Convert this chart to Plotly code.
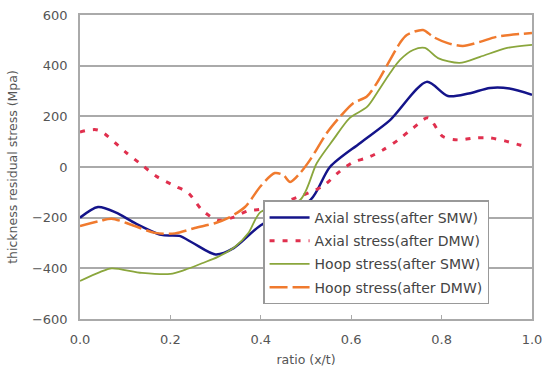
import plotly.graph_objects as go

x_axial_smw = [0, 0.04, 0.08, 0.12, 0.18, 0.22, 0.25, 0.30, 0.34, 0.40, 0.51, 0.553, 0.62, 0.686, 0.767, 0.814, 0.86, 0.907, 0.95, 1.0]
y_axial_smw = [-200, -158, -180, -220, -268, -272, -300, -345, -320, -230, -130, 0, 95, 185, 336, 280, 290, 312, 310, 285]

x_axial_dmw = [0, 0.04, 0.1, 0.137, 0.17, 0.21, 0.24, 0.27, 0.305, 0.337, 0.372, 0.405, 0.535, 0.57, 0.605, 0.635, 0.67, 0.704, 0.737, 0.77, 0.803, 0.836, 0.874, 0.907, 0.94, 0.973, 0.99]
y_axial_dmw = [138, 146, 60, 8, -38, -75, -103, -170, -210, -200, -173, -165, -78, -24, 20, 36, 67, 107, 154, 194, 120, 107, 115, 115, 103, 87, 80]

x_hoop_smw = [0, 0.044, 0.07, 0.137, 0.2, 0.232, 0.27, 0.305, 0.343, 0.372, 0.4, 0.487, 0.524, 0.56, 0.597, 0.635, 0.657, 0.686, 0.708, 0.737, 0.763, 0.792, 0.84, 0.885, 0.945, 1.0]
y_hoop_smw = [-450, -415, -400, -418, -422, -406, -380, -355, -315, -262, -177, -130, 16, 107, 194, 237, 292, 371, 423, 462, 470, 430, 411, 435, 470, 482]

x_hoop_dmw = [0, 0.044, 0.07, 0.115, 0.166, 0.21, 0.254, 0.3, 0.327, 0.365, 0.40, 0.431, 0.45, 0.465, 0.487, 0.509, 0.546, 0.575, 0.605, 0.634, 0.657, 0.686, 0.708, 0.723, 0.759, 0.781, 0.812, 0.847, 0.885, 0.922, 1.0]
y_hoop_dmw = [-233, -213, -204, -229, -260, -262, -241, -221, -202, -158, -75, -24, -32, -59, -24, 28, 134, 198, 253, 277, 332, 423, 490, 521, 541, 514, 490, 478, 494, 514, 529]

names = ["Axial stress(after SMW)", "Axial stress(after DMW)",
         "Hoop stress(after SMW)", "Hoop stress(after DMW)"]

x_ticks = [0, 0.2, 0.4, 0.6, 0.8, 1.0]
x_tick_labels = ["0.0", "0.2", "0.4", "0.6", "0.8", "1.0"]
y_ticks = [-600, -400, -200, 0, 200, 400, 600]

FONT = "DejaVu Sans, Verdana, sans-serif"

fig = go.Figure()
fig.add_trace(go.Scatter(x=x_axial_smw, y=y_axial_smw, name=names[0], mode="lines", legendgroup="a",
                         line=dict(color="#14148a", width=2.5, shape="spline", smoothing=0.8)))
fig.add_trace(go.Scatter(x=x_axial_dmw, y=y_axial_dmw, name=names[1], mode="lines", legendgroup="b",
                         line=dict(color="#e0304e", width=3, dash="5px,8px", shape="spline", smoothing=0.8)))
fig.add_trace(go.Scatter(x=x_hoop_smw, y=y_hoop_smw, name=names[2], mode="lines", legendgroup="c",
                         line=dict(color="#8aa63c", width=1.8, shape="spline", smoothing=0.8)))
fig.add_trace(go.Scatter(x=x_hoop_dmw, y=y_hoop_dmw, name=names[3], mode="lines", legendgroup="d",
                         line=dict(color="#f07a2e", width=2.5, dash="18px,5px", shape="spline", smoothing=0.8)))

fig.update_layout(
    width=544, height=367,
    margin=dict(l=80, r=12, t=15, b=48),
    paper_bgcolor="white", plot_bgcolor="white",
    font=dict(family=FONT, size=13, color="#555"),
    showlegend=True,
    legend=dict(x=0.405, y=0.39, xanchor="left", yanchor="top",
                bgcolor="white", bordercolor="#999", borderwidth=1.5,
                font=dict(family=FONT, size=14, color="#444"), tracegroupgap=2,
                itemwidth=40),
)
fig.update_xaxes(range=[0, 1.0], tickvals=x_ticks, ticktext=x_tick_labels, automargin=False,
                 showgrid=False, showline=True, linecolor="#aaa", linewidth=1.5,
                 mirror=True, ticks="inside", ticklen=4, tickcolor="#aaa",
                 tickfont=dict(size=13), ticklabelstandoff=8,
                 title=dict(text="ratio (x/t)", standoff=10, font=dict(size=12.5)), zeroline=False)
fig.update_yaxes(range=[-600, 600], tickvals=y_ticks, automargin=False,
                 showgrid=True, gridcolor="#aaa", gridwidth=1.5,
                 showline=True, linecolor="#aaa", linewidth=1.5, mirror=True,
                 ticks="", tickfont=dict(size=13), ticklabelstandoff=8,
                 title=dict(text="thickness residual stress (Mpa)", standoff=12, font=dict(size=12.5)),
                 zeroline=False)

fig.write_html("out.html", config={"displayModeBar": False},
               post_script="document.body.style.margin='0';document.body.style.padding='0';")
